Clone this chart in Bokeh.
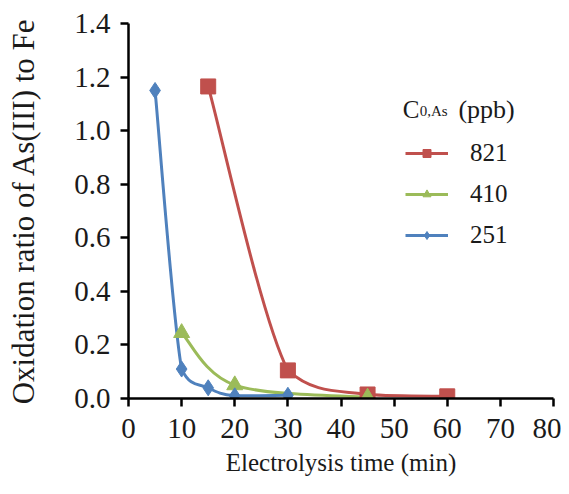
from bokeh.plotting import figure
from bokeh.models import Legend, LegendItem, Range1d, FixedTicker, NumeralTickFormatter, Label
from bokeh.embed import file_html
from bokeh.resources import INLINE

# data
t_821 = [15, 30, 45, 60]
r_821 = [1.165, 0.105, 0.015, 0.008]
t_410 = [10, 20, 45]
r_410 = [0.245, 0.05, 0.004]
t_251 = [5, 10, 15, 20, 30]
r_251 = [1.15, 0.11, 0.04, 0.01, 0.012]
labels = ["821", "410", "251"]
colors = ["#C0504D", "#9BBB59", "#4F81BD"]
markers = ["square", "triangle", "diamond"]
x_ticks = [0, 10, 20, 30, 40, 50, 60, 70, 80]
y_ticks = [0.0, 0.2, 0.4, 0.6, 0.8, 1.0, 1.2, 1.4]

FONT = "Liberation Serif"
W, H = 561, 486
ML, MR, MT, MB = 128, 8, 23, 88
X0, X1, Y0, Y1 = 0, 80, 0, 1.4

p = figure(width=W, height=H, output_backend="svg", toolbar_location=None,
           x_range=Range1d(X0, X1), y_range=Range1d(Y0, Y1),
           min_border_left=ML, min_border_right=MR, min_border_top=MT, min_border_bottom=MB)
p.outline_line_color = None
p.xgrid.grid_line_color = None
p.ygrid.grid_line_color = None
p.background_fill_color = "white"
p.border_fill_color = "white"

for ax in (p.xaxis[0], p.yaxis[0]):
    ax.axis_line_width = 2.5
    ax.axis_line_color = "black"
    ax.major_tick_line_width = 2.5
    ax.major_tick_line_color = "black"
    ax.major_tick_out = 8
    ax.major_tick_in = 0
    ax.minor_tick_line_color = None
    ax.major_label_text_font = FONT
    ax.major_label_text_font_size = "29px"
    ax.major_label_text_color = "#1a1a1a"
    ax.axis_label_text_font = FONT
    ax.axis_label_text_font_style = "normal"
    ax.axis_label_text_color = "#1a1a1a"

p.xaxis.axis_label_text_font_size = "25px"
p.yaxis.axis_label_text_font_size = "31px"
p.xaxis.ticker = FixedTicker(ticks=x_ticks)
p.yaxis.ticker = FixedTicker(ticks=y_ticks)
p.yaxis.formatter = NumeralTickFormatter(format="0.0")
p.xaxis.axis_label = "Electrolysis time (min)"
p.yaxis.axis_label = "Oxidation ratio of As(III) to Fe"
p.xaxis.major_label_standoff = 12
p.yaxis.major_label_standoff = 10
p.xaxis.axis_label_standoff = 8
p.yaxis.axis_label_standoff = 30


def smooth(xs, ys):
    # Catmull-Rom style smoothed line, control points kept within each segment's y span
    n = len(xs)
    out = dict(x0=[], y0=[], x1=[], y1=[], cx0=[], cy0=[], cx1=[], cy1=[])
    for i in range(n - 1):
        a, b, c, e = max(i - 1, 0), i, i + 1, min(i + 2, n - 1)
        lo, hi = min(ys[b], ys[c]), max(ys[b], ys[c])
        c0x = xs[b] + (xs[c] - xs[a]) / 6
        c0y = min(max(ys[b] + (ys[c] - ys[a]) / 6, lo), hi)
        c1x = xs[c] - (xs[e] - xs[b]) / 6
        c1y = min(max(ys[c] - (ys[e] - ys[b]) / 6, lo), hi)
        out["x0"].append(xs[b]); out["y0"].append(ys[b])
        out["x1"].append(xs[c]); out["y1"].append(ys[c])
        out["cx0"].append(c0x); out["cy0"].append(c0y)
        out["cx1"].append(c1x); out["cy1"].append(c1y)
    return out


series = [(t_821, r_821), (t_410, r_410), (t_251, r_251)]
curves = []
for (xs, ys), col in zip(series, colors):
    s = smooth(xs, ys)
    curves.append(p.bezier(x0=s["x0"], y0=s["y0"], x1=s["x1"], y1=s["y1"],
                           cx0=s["cx0"], cy0=s["cy0"], cx1=s["cx1"], cy1=s["cy1"],
                           line_color=col, line_width=3))

items = []
for (xs, ys), lab, col, mk, cv in zip(series, labels, colors, markers, curves):
    sz = 15 if mk == "square" else 16
    sc = p.scatter(xs, ys, marker=mk, size=sz, fill_color=col, line_color=col)
    items.append(LegendItem(label=lab, renderers=[cv, sc]))

legend = Legend(items=items, location=(277, 149), padding=0, margin=0,
                spacing=13, glyph_width=43, glyph_height=20, label_height=20,
                label_standoff=22, label_text_font=FONT, label_text_font_size="25px",
                label_text_color="#1a1a1a", border_line_color=None,
                background_fill_alpha=0)
p.add_layout(legend, "center")

p.add_layout(Label(x=51.6, y=1.079, text="C", text_font=FONT, text_font_size="25px",
                   text_color="#1a1a1a", text_baseline="alphabetic"))
p.add_layout(Label(x=54.8, y=1.075, text="0,As", text_font=FONT, text_font_size="15px",
                   text_color="#1a1a1a", text_baseline="alphabetic"))
p.add_layout(Label(x=62.1, y=1.079, text="(ppb)", text_font=FONT, text_font_size="26px",
                   text_color="#1a1a1a", text_baseline="alphabetic"))

open("out.html", "w").write(file_html(p, INLINE))
